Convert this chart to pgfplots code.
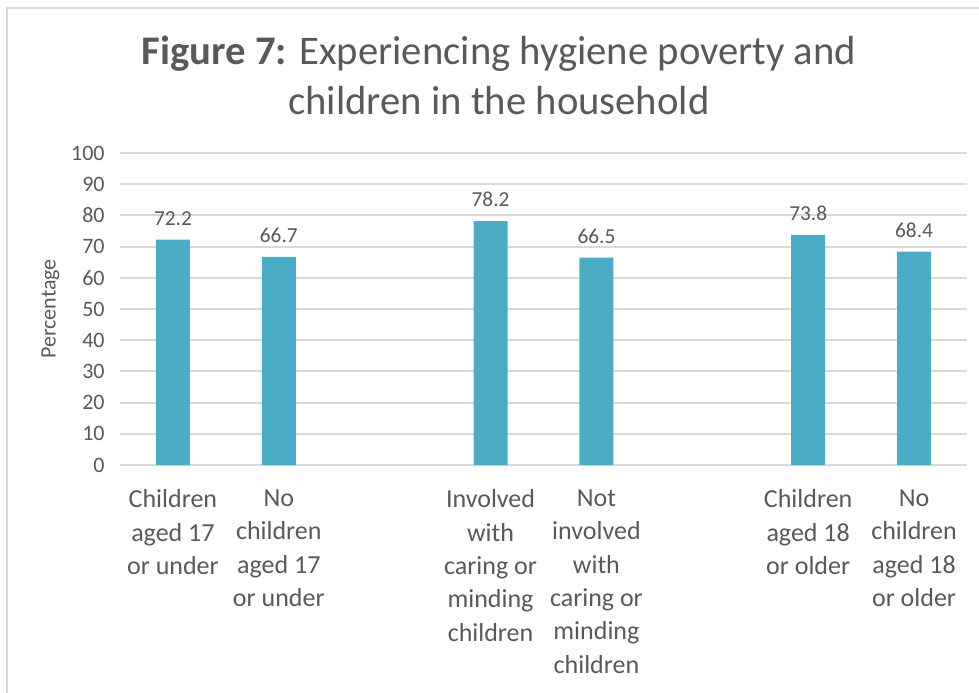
\documentclass[border=0pt]{standalone}
\usepackage{pgfplots}
\pgfplotsset{compat=1.18}
\usepackage{fontspec}
\setmainfont{Carlito}
\definecolor{barc}{HTML}{4BACC6}
\definecolor{txt}{HTML}{595959}
\definecolor{grd}{HTML}{D9D9D9}
\begin{document}
\begin{tikzpicture}
\begin{scope}[x=0.75pt,y=-0.75pt]
\path[use as bounding box] (0,0) rectangle (979,693);
\draw[grd, line width=2pt] (7,700) -- (7,8) -- (990,8);
\node[align=center, text=txt, font=\fontsize{30.5}{37.5}\selectfont] at (499,75)
  {\textbf{Figure 7:} Experiencing hygiene poverty and\\children in the household};
\end{scope}
\begin{axis}[
  at={(90pt,-348.75pt)}, anchor=south west,
  scale only axis, width=635.25pt, height=234pt,
  xmin=-0.5, xmax=7.5, ymin=0, ymax=100,
  ytick={0,10,...,100},
  xtick={0,1,3,4,6,7},
  xticklabels={{Children\\aged 17\\or under},{No\\children\\aged 17\\or under},{Involved\\with\\caring or\\minding\\children},{Not\\involved\\with\\caring or\\minding\\children},{Children\\aged 18\\or older},{No\\children\\aged 18\\or older}},
  xticklabel style={align=center, text=txt, font=\fontsize{19.5}{25}\selectfont, yshift=-15pt},
  yticklabel style={text=txt, font=\fontsize{16.5}{18}\selectfont, xshift=-8pt},
  /pgf/number format/assume math mode=true,
  major tick length=0pt,
  axis line style={draw=none},
  ymajorgrids, grid style={grd, line width=1.5pt},
  ylabel={Percentage},
  ylabel style={text=txt, font=\fontsize{16.5}{18}\selectfont, xshift=0pt, yshift=2pt},
  ybar, bar width=25.5pt,
  nodes near coords,
  every node near coord/.append style={text=txt, font=\fontsize{16}{18}\selectfont, /pgf/number format/fixed, /pgf/number format/fixed zerofill, /pgf/number format/precision=1, yshift=7pt},
  clip=false,
]
\addplot[fill=barc, draw=none] coordinates {(0,72.2) (1,66.7) (3,78.2) (4,66.5) (6,73.8) (7,68.4)};
\end{axis}
\end{tikzpicture}
\end{document}
